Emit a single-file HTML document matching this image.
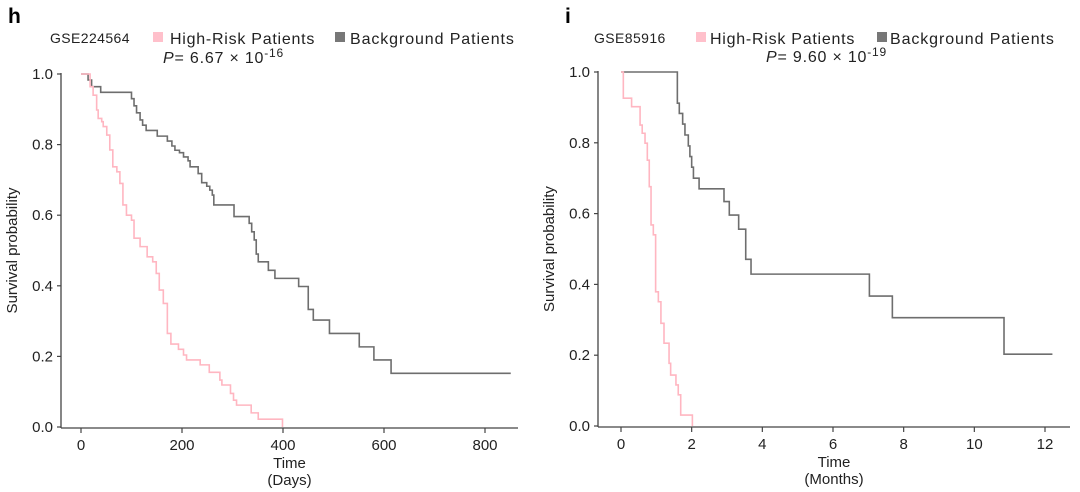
<!DOCTYPE html>
<html><head><meta charset="utf-8"><style>
body{margin:0;background:#fff;}
svg{display:block;font-family:"Liberation Sans",sans-serif;}
</style></head><body>
<svg id="fig" width="1080" height="492" viewBox="0 0 1080 492">
<text x="8" y="23" font-size="21" font-weight="bold">h</text>
<text x="50" y="43" font-size="14" fill="#222" letter-spacing="0.4">GSE224564</text>
<rect x="153" y="32" width="10" height="10" fill="#ffc0cb"/>
<text x="170" y="44" font-size="16" fill="#222" letter-spacing="0.75">High-Risk Patients</text>
<rect x="335" y="32" width="10" height="10" fill="#777"/>
<text x="350" y="44" font-size="16" fill="#222" letter-spacing="0.9">Background Patients</text>
<text x="163" y="63" font-size="16" fill="#222" letter-spacing="0.8"><tspan font-style="italic">P</tspan>= 6.67 ×  10<tspan font-size="12" dy="-6">-16</tspan></text>

<text x="565" y="23" font-size="21" font-weight="bold">i</text>
<text x="594" y="43" font-size="14" fill="#222" letter-spacing="0.4">GSE85916</text>
<rect x="696" y="32" width="10" height="10" fill="#ffc0cb"/>
<text x="710" y="44" font-size="16" fill="#222" letter-spacing="0.75">High-Risk Patients</text>
<rect x="877" y="32" width="10" height="10" fill="#777"/>
<text x="890" y="44" font-size="16" fill="#222" letter-spacing="0.9">Background Patients</text>
<text x="766" y="62" font-size="16" fill="#222" letter-spacing="0.8"><tspan font-style="italic">P</tspan>= 9.60 ×  10<tspan font-size="12" dy="-6">-19</tspan></text>
<g id="plots"></g>
</svg>
<script>
const leftXTicks=[0,200,400,600,800];
const rightXTicks=[0,2,4,6,8,10,12];
const yTicks=[0,0.2,0.4,0.6,0.8,1.0];
const leftHighT=[0,18,24,31,34,41,44,51,57,63,71,77,83,90,100,105,117,131,142,149,155,163,171,178,193,203,209,236,254,275,279,296,302,308,337,351,399];
const leftHighS=[1,0.964,0.94,0.898,0.874,0.865,0.851,0.827,0.785,0.737,0.723,0.69,0.629,0.6,0.586,0.535,0.511,0.482,0.468,0.435,0.388,0.35,0.265,0.235,0.22,0.204,0.19,0.176,0.155,0.133,0.119,0.095,0.076,0.062,0.04,0.022,0.0];
const leftHighEnd=399;
const leftBgT=[0,14,21,39,100,105,110,117,122,129,151,171,180,186,195,203,212,216,232,239,249,255,260,263,303,333,338,343,347,351,371,384,431,450,460,492,551,580,614];
const leftBgS=[1,0.983,0.964,0.948,0.93,0.91,0.89,0.87,0.855,0.84,0.824,0.81,0.796,0.784,0.777,0.765,0.754,0.737,0.718,0.692,0.682,0.671,0.657,0.629,0.596,0.577,0.553,0.53,0.49,0.468,0.444,0.421,0.398,0.333,0.303,0.265,0.227,0.19,0.152];
const leftBgEnd=851;
const rightHighT=[0,0.066,0.30,0.54,0.6,0.68,0.745,0.8,0.85,0.915,0.98,1.057,1.13,1.217,1.36,1.405,1.555,1.62,1.69,2.02];
const rightHighS=[1,0.926,0.902,0.85,0.827,0.799,0.751,0.676,0.568,0.54,0.379,0.351,0.29,0.234,0.177,0.144,0.116,0.088,0.031,0.0];
const rightHighEnd=2.02;
const rightBgT=[0,1.595,1.65,1.745,1.81,1.905,1.95,2.0,2.05,2.21,2.915,3.065,3.33,3.53,3.68,7.03,7.68,10.84];
const rightBgS=[1,0.912,0.883,0.853,0.822,0.791,0.761,0.731,0.7,0.67,0.634,0.596,0.556,0.471,0.429,0.367,0.306,0.203];
const rightBgEnd=12.21;

const NS="http://www.w3.org/2000/svg";
const root=document.getElementById('plots');
function mk(tag,attrs,parent){const e=document.createElementNS(NS,tag);for(const k in attrs)e.setAttribute(k,attrs[k]);parent.appendChild(e);return e;}

function panel(p){
  const g=mk('g',{},root);
  
  
  const sx=v=>p.x0+(v-p.xmin)/(p.xmax-p.xmin)*(p.x1-p.x0);
  const sy=v=>p.y0-v*(p.y0-p.y1);
  const ax=mk('path',{d:`M${p.axL},${p.y1-1}V${p.y0+1}`,stroke:'#444','stroke-width':1.3,fill:'none'},g);
  
  
  const bx=mk('path',{d:`M${p.axL},${p.y0+1}H${p.axR}`,stroke:'#444','stroke-width':1.3,fill:'none'},g);
  
  
  yTicks.forEach(v=>{
    const y=sy(v);
    mk('path',{d:`M${p.axL-4},${y}H${p.axL}`,stroke:'#444','stroke-width':1.2},g);
    const t=mk('text',{x:p.axL-8,y:y+5,'font-size':15,'text-anchor':'end',fill:'#222'},g);
    t.textContent=v.toFixed(1);
    
    
  });
  p.xt.forEach(v=>{
    const x=sx(v);
    mk('path',{d:`M${x},${p.y0+1}V${p.y0+6}`,stroke:'#444','stroke-width':1.2},g);
    const t=mk('text',{x:x,y:p.y0+23,'font-size':15,'text-anchor':'middle',fill:'#222'},g);
    t.textContent=String(v);
    
    
  });
  const xc=(p.axL+p.axR)/2;
  const t1=mk('text',{x:xc,y:p.y0+41,'font-size':15,'text-anchor':'middle',fill:'#222'},g);
  t1.textContent='Time';
  
  
  const t2=mk('text',{x:xc,y:p.y0+58,'font-size':15,'text-anchor':'middle',fill:'#222'},g);
  t2.textContent=p.unit;
  
  
  const yc=(p.y0+p.y1)/2;
  const yt=mk('text',{x:p.axL-44,y:yc,'font-size':15,'text-anchor':'middle',fill:'#222',transform:`rotate(-90 ${p.axL-44} ${yc})`},g);
  yt.textContent='Survival probability';
  
  
  p.series.forEach(s=>{
    let d=`M${sx(s.t[0])},${sy(s.s[0])}`;
    for(let i=1;i<s.t.length;i++){d+=`H${sx(s.t[i])}V${sy(s.s[i])}`;}
    d+=`H${sx(s.end)}`;
    const path=mk('path',{d:d,stroke:s.color,'stroke-width':1.6,fill:'none'},g);
    
    
  });
}
panel({name:'left-km-plot',x0:81,x1:485,xmin:0,xmax:800,y0:427,y1:74,axL:61,axR:518,xt:leftXTicks,unit:'(Days)',
  series:[{t:leftBgT,s:leftBgS,end:leftBgEnd,color:'#6e6e6e',name:'background-curve-left'},
          {t:leftHighT,s:leftHighS,end:leftHighEnd,color:'#ffb6c1',name:'high-risk-curve-left'}]});
panel({name:'right-km-plot',x0:621,x1:1045,xmin:0,xmax:12,y0:426,y1:72,axL:598,axR:1070,xt:rightXTicks,unit:'(Months)',
  series:[{t:rightBgT,s:rightBgS,end:rightBgEnd,color:'#6e6e6e',name:'background-curve-right'},
          {t:rightHighT,s:rightHighS,end:rightHighEnd,color:'#ffb6c1',name:'high-risk-curve-right'}]});
</script>
</body></html>
